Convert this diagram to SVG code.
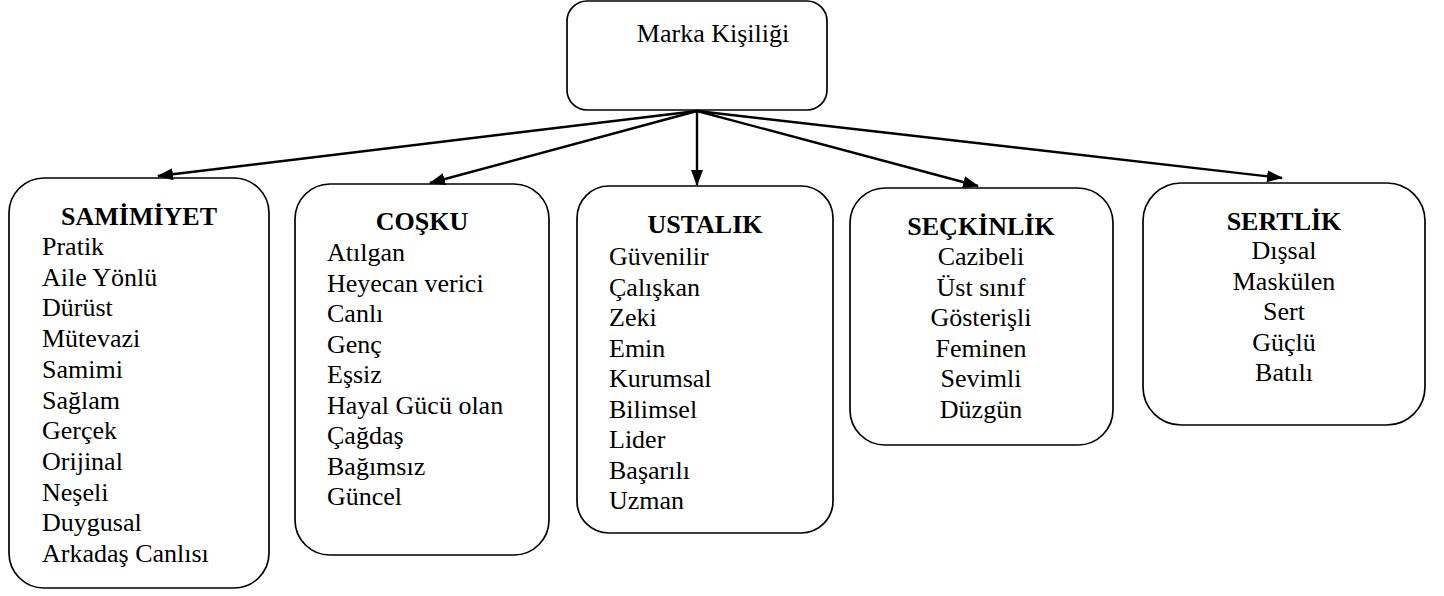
<svg xmlns="http://www.w3.org/2000/svg" width="1444" height="596" viewBox="0 0 1444 596">
<defs>
<style>
.box{fill:#fff;stroke:#000;stroke-width:1.7}
.t{font-family:'Liberation Serif','Times New Roman',Times,'DejaVu Serif','Noto Serif',serif;font-size:26px;fill:#000}
.h{font-weight:bold}
.c{text-anchor:middle}
.con line{stroke:#000;stroke-width:2.4;marker-end:url(#ah)}
</style>
<marker id="ah" viewBox="0 0 16 12" refX="15" refY="6" markerWidth="16" markerHeight="12" markerUnits="userSpaceOnUse" orient="auto">
<path d="M0,0 L16,6 L0,12 z" fill="#000"/>
</marker>
</defs>
<rect width="1444" height="596" fill="#fff"/>

<g id="root">
<rect class="box" x="567" y="1" width="260" height="109" rx="20"/>
<text class="t c" x="713" y="42" font-family="Liberation Serif, serif">Marka Kişiliği</text>
</g>

<g id="samimiyet" font-family="Liberation Serif, serif">
<rect class="box" x="9" y="178" width="260" height="410" rx="35"/>
<text class="t h c" x="139" y="225">SAMİMİYET</text>
<text class="t" x="42" y="255">Pratik</text>
<text class="t" x="42" y="285.7">Aile Yönlü</text>
<text class="t" x="42" y="316.4">Dürüst</text>
<text class="t" x="42" y="347.1">Mütevazi</text>
<text class="t" x="42" y="377.8">Samimi</text>
<text class="t" x="42" y="408.5">Sağlam</text>
<text class="t" x="42" y="439.2">Gerçek</text>
<text class="t" x="42" y="469.9">Orijinal</text>
<text class="t" x="42" y="500.6">Neşeli</text>
<text class="t" x="42" y="531.3">Duygusal</text>
<text class="t" x="42" y="562">Arkadaş Canlısı</text>
</g>

<g id="cosku">
<rect class="box" x="295" y="184" width="254" height="371" rx="35"/>
<text class="t h c" x="422" y="230">COŞKU</text>
<text class="t" x="327" y="261">Atılgan</text>
<text class="t" x="327" y="291.5">Heyecan verici</text>
<text class="t" x="327" y="322">Canlı</text>
<text class="t" x="327" y="352.5">Genç</text>
<text class="t" x="327" y="383">Eşsiz</text>
<text class="t" x="327" y="413.5">Hayal Gücü olan</text>
<text class="t" x="327" y="444">Çağdaş</text>
<text class="t" x="327" y="474.5">Bağımsız</text>
<text class="t" x="327" y="505">Güncel</text>
</g>

<g id="ustalik">
<rect class="box" x="577" y="186" width="256" height="347" rx="32"/>
<text class="t h c" x="705" y="233">USTALIK</text>
<text class="t" x="609" y="265">Güvenilir</text>
<text class="t" x="609" y="295.5">Çalışkan</text>
<text class="t" x="609" y="326">Zeki</text>
<text class="t" x="609" y="356.5">Emin</text>
<text class="t" x="609" y="387">Kurumsal</text>
<text class="t" x="609" y="417.5">Bilimsel</text>
<text class="t" x="609" y="448">Lider</text>
<text class="t" x="609" y="478.5">Başarılı</text>
<text class="t" x="609" y="509">Uzman</text>
</g>

<g id="seckinlik">
<rect class="box" x="850" y="188" width="263" height="257" rx="35"/>
<text class="t h c" x="981" y="235">SEÇKİNLİK</text>
<text class="t c" x="981" y="265">Cazibeli</text>
<text class="t c" x="981" y="295.5">Üst sınıf</text>
<text class="t c" x="981" y="326">Gösterişli</text>
<text class="t c" x="981" y="356.5">Feminen</text>
<text class="t c" x="981" y="387">Sevimli</text>
<text class="t c" x="981" y="417.5">Düzgün</text>
</g>

<g id="sertlik">
<rect class="box" x="1143" y="183" width="282" height="242" rx="38"/>
<text class="t h c" x="1284" y="230">SERTLİK</text>
<text class="t c" x="1284" y="259">Dışsal</text>
<text class="t c" x="1284" y="289.5">Maskülen</text>
<text class="t c" x="1284" y="320">Sert</text>
<text class="t c" x="1284" y="350.5">Güçlü</text>
<text class="t c" x="1284" y="381">Batılı</text>
</g>

<g id="connectors" class="con">
<line x1="697" y1="111" x2="158" y2="176"/>
<line x1="697" y1="111" x2="430" y2="183"/>
<line x1="697" y1="111" x2="697" y2="185"/>
<line x1="697" y1="111" x2="978" y2="186"/>
<line x1="697" y1="111" x2="1282" y2="178"/>
</g>
</svg>
